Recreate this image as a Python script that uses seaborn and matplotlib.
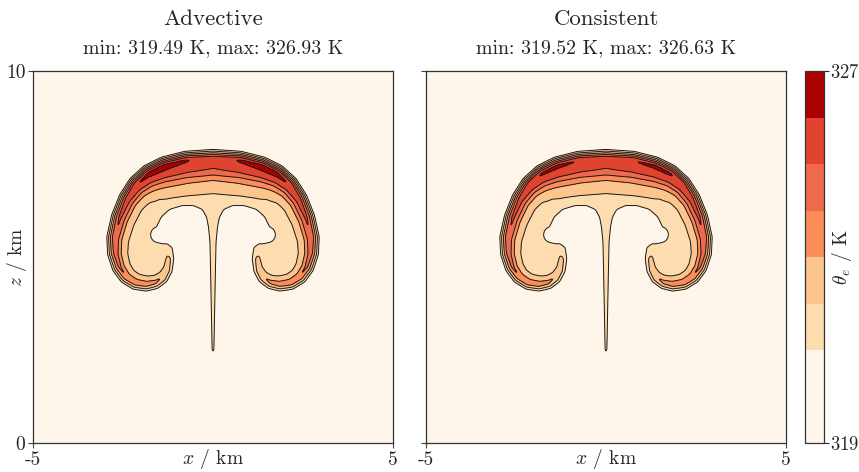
import numpy as np
import matplotlib
matplotlib.use("Agg")
import matplotlib.pyplot as plt
from matplotlib.path import Path
import seaborn as sns

# colour levels of theta_e (K) and band colours
levels = [319, 321, 322, 323, 324, 325, 326, 327]
line_levels = [321, 322, 323, 324, 325, 326]
band_colors = ['#fef6ea', '#fddcb0', '#fdc58e', '#fc8d59', '#ef6a4c', '#e0442f', '#aa0000']

titles = ['Advective', 'Consistent']
subtitles = ['min: 319.49 K, max: 326.93 K', 'min: 319.52 K, max: 326.63 K']

# right half of the plume (x >= 0, km), mirrored for the left half
# warm outer edge: top centre -> side -> under the curl -> hook tip
hot_x = [0.00, 0.80, 1.45, 1.95, 2.35, 2.65, 2.88, 3.02, 3.00, 2.85,
         2.60, 2.25, 1.85, 1.50, 1.22, 1.05, 0.99, 1.03, 1.20, 1.52]
hot_z = [7.96, 7.90, 7.74, 7.50, 7.15, 6.70, 6.15, 5.55, 5.05, 4.60,
         4.27, 4.06, 4.00, 4.08, 4.28, 4.58, 4.95, 5.30, 5.48, 5.60]
# peak theta_e just inside the warm edge, per edge point
peak_adv = [325.8, 326.4, 326.7, 326.75, 326.6, 326.2, 325.9, 325.6, 325.3, 325.1,
            325.0, 324.9, 324.8, 324.7, 324.5, 324.3, 324.0, 323.6, 323.0, 322.3]
peak_con = [325.8, 326.3, 326.55, 326.6, 326.45, 326.1, 325.9, 325.6, 325.3, 325.1,
            325.0, 324.9, 324.8, 324.7, 324.5, 324.3, 324.0, 323.6, 323.0, 322.3]
# depth (km) of the warm layer below each edge point
layer_depth = [1.45, 1.40, 1.30, 1.15, 1.00, 0.90, 0.85, 0.80, 0.75, 0.70,
               0.65, 0.62, 0.60, 0.55, 0.50, 0.45, 0.42, 0.36, 0.30, 0.25]
# cold edge: hook tip -> underside of the cap -> stem down to its tip
cold_x = [1.52, 1.50, 1.40, 1.18, 0.85, 0.55, 0.33, 0.22, 0.17, 0.13, 0.11, 0.09, 0.07, 0.00]
cold_z = [5.60, 5.85, 6.05, 6.25, 6.35, 6.35, 6.25, 6.05, 5.80, 5.40, 4.50, 3.50, 2.50, 2.30]

# profile of the warm layer versus relative depth
depth_knots = [0.00, 0.18, 0.40, 0.52, 0.61, 0.85, 1.20]
profile_knots = [1.00, 0.97, 0.82, 0.60, 0.38, 0.16, 0.00]

theta_bg = 319.5
theta_in = 321.3
edge_width = 0.28
cold_width = 0.03

x = np.linspace(0, 5, 501)
z = np.linspace(0, 10, 1001)
XX, ZZ = np.meshgrid(x, z)


def seg_dist(px, pz, ax_, az_, bx, bz):
    dx, dz = bx - ax_, bz - az_
    t = np.clip(((px - ax_) * dx + (pz - az_) * dz) / (dx * dx + dz * dz), 0, 1)
    return np.hypot(px - ax_ - t * dx, pz - az_ - t * dz), t


def build_field(peak):
    d_hot = np.full(XX.shape, np.inf)
    warm = np.full(XX.shape, -np.inf)
    for i in range(len(hot_x) - 1):
        d, t = seg_dist(XX, ZZ, hot_x[i], hot_z[i], hot_x[i + 1], hot_z[i + 1])
        tp = peak[i] + t * (peak[i + 1] - peak[i])
        hh = layer_depth[i] + t * (layer_depth[i + 1] - layer_depth[i])
        warm = np.maximum(warm, (tp - theta_in) * np.interp(d / hh, depth_knots, profile_knots))
        d_hot = np.minimum(d_hot, d)

    d_cold = np.full(XX.shape, np.inf)
    for i in range(len(cold_x) - 1):
        d, _ = seg_dist(XX, ZZ, cold_x[i], cold_z[i], cold_x[i + 1], cold_z[i + 1])
        d_cold = np.minimum(d_cold, d)

    # close the half outline a little past the symmetry axis
    poly = (list(zip(hot_x, hot_z)) + list(zip(cold_x[1:], cold_z[1:]))
            + [(-0.2, cold_z[-1]), (-0.2, hot_z[0])])
    inside = Path(poly).contains_points(np.c_[XX.ravel(), ZZ.ravel()]).reshape(XX.shape)

    ramp = np.clip(d_hot / edge_width, 0, 1) * np.clip(d_cold / cold_width, 0, 1)
    core = theta_in + warm
    half = np.where(inside, theta_bg + (core - theta_bg) * ramp, theta_bg)

    full = np.concatenate([half[:, :0:-1], half], axis=1)

    # light smoothing of the polygonal outline
    k = np.exp(-0.5 * (np.arange(-9, 10) / 3.0) ** 2)
    k /= k.sum()
    r = len(k) // 2
    p = np.pad(full, ((r, r), (0, 0)), mode='edge')
    full = sum(k[j] * p[j:j + full.shape[0]] for j in range(len(k)))
    p = np.pad(full, ((0, 0), (r, r)), mode='edge')
    full = sum(k[j] * p[:, j:j + full.shape[1]] for j in range(len(k)))
    return full


xf = np.concatenate([-x[:0:-1], x])
XF, ZF = np.meshgrid(xf, z)
fields = [build_field(peak_adv), build_field(peak_con)]

sns.set_theme(style='ticks')
plt.rcParams['font.family'] = 'serif'
plt.rcParams['font.serif'] = ['cmr10', 'DejaVu Serif']
plt.rcParams['mathtext.fontset'] = 'cm'
plt.rcParams['axes.unicode_minus'] = False
plt.rcParams['axes.formatter.use_mathtext'] = True

fig = plt.figure(figsize=(8.59, 4.72), dpi=100)
W, H = 859, 472
axes = [fig.add_axes([33 / W, 29 / H, 360 / W, 372 / H]),
        fig.add_axes([426 / W, 29 / H, 360 / W, 372 / H])]
cax = fig.add_axes([805 / W, 29 / H, 19 / W, 372 / H])

for i, ax in enumerate(axes):
    cf = ax.contourf(XF, ZF, fields[i], levels=levels, colors=band_colors)
    ax.contour(XF, ZF, fields[i], levels=line_levels, colors='#1a1a1a', linewidths=0.7)
    ax.set_xlim(-5, 5)
    ax.set_ylim(0, 10)
    ax.set_xticks([-5, 5])
    ax.set_xticklabels(['-5', '5'])
    ax.set_yticks([0, 10])
    if i == 0:
        ax.set_yticklabels(['0', '10'])
        ax.set_ylabel('$z$ / km', fontsize=14)
        ax.yaxis.set_label_coords(-0.012, 0.5)
    else:
        ax.set_yticklabels([])
    ax.set_xlabel('$x$ / km', fontsize=14)
    ax.xaxis.set_label_coords(0.5, -0.01)
    ax.tick_params(labelsize=14, length=3.5, width=0.8, color='#444444', pad=2)
    for s in ax.spines.values():
        s.set_color('#333333')
        s.set_linewidth(0.9)
    ax.text(0.5, 1 + 46 / 372, titles[i], transform=ax.transAxes,
            ha='center', va='baseline', fontsize=16.5)
    ax.text(0.5, 1 + 18 / 372, subtitles[i], transform=ax.transAxes,
            ha='center', va='baseline', fontsize=14.3)

cb = fig.colorbar(cf, cax=cax, ticks=[319, 327], spacing='proportional')
cb.ax.tick_params(labelsize=13.5, length=3.5, width=0.8, pad=0.5)
cb.outline.set_edgecolor('#333333')
cb.outline.set_linewidth(0.9)
cax.text(1.95, 0.5, r'$\theta_e$ / K', transform=cax.transAxes, rotation=90,
         ha='center', va='center', fontsize=14)

fig.savefig('out.png', dpi=100)
